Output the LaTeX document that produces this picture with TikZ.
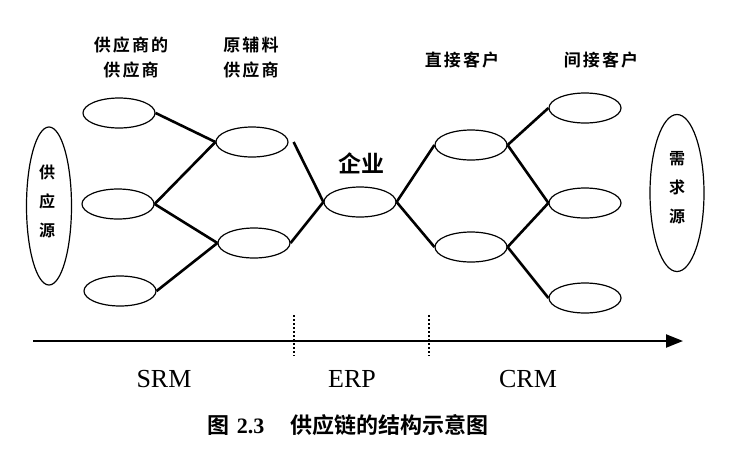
\documentclass[tikz,border=0pt]{standalone}
\usepackage{fontspec}
\setmainfont{Liberation Serif}
\newfontfamily\cjk{Noto Sans CJK SC}[BoldFont={Noto Sans CJK SC Bold}]
\newfontfamily\cjkwide{Noto Sans CJK SC}[BoldFont={Noto Sans CJK SC Bold},LetterSpace=12]
\usetikzlibrary{shapes.geometric,arrows.meta}
\begin{document}
\begin{tikzpicture}[x=1pt,y=-1pt,
  oval/.style={draw,ellipse,line width=1.2pt,minimum width=72pt,minimum height=30pt,inner sep=0pt},
  bigoval/.style={draw,ellipse,line width=1.2pt,inner sep=0pt},
  link/.style={line width=2.6pt},
  head/.style={font=\cjkwide\bfseries\fontsize{17}{25}\selectfont,align=center},
  vtext/.style={font=\cjk\bfseries\fontsize{16}{29}\selectfont,align=center},
  tag/.style={font=\fontsize{26}{30}\selectfont},
  divider/.style={line width=1.6pt,dash pattern=on 2pt off 2pt}]
\useasboundingbox (0,0) rectangle (734,456);
% left source
\node[bigoval,minimum width=45pt,minimum height=158pt] (src) at (49,206) {};
\node[vtext] (srct) at (47,201) {供\\应\\源};
% right demand
\node[bigoval,minimum width=54pt,minimum height=157pt] (dem) at (677,193) {};
\node[vtext] (demt) at (677,188) {需\\求\\源};
% column 1
\node[oval] (a1) at (119,113) {};
\node[oval] (a2) at (118,204) {};
\node[oval] (a3) at (120,291) {};
% column 2
\node[oval] (b1) at (252,142) {};
\node[oval] (b2) at (254,243) {};
% enterprise
\node[oval] (e) at (360,202) {};
\node[font=\cjk\bfseries\fontsize{23}{26}\selectfont] (et) at (361,163) {企业};
% direct customers
\node[oval] (c1) at (471,145) {};
\node[oval] (c2) at (471,247) {};
% indirect customers
\node[oval] (d1) at (585,108) {};
\node[oval] (d2) at (585,203) {};
\node[oval] (d3) at (585,298) {};
% headings
\node[head] (h1) at (131,58) {供应商的\\供应商};
\node[head] (h2) at (251,58) {原辅料\\供应商};
\node[head] (h3) at (462,60) {直接客户};
\node[head] (h4) at (601,60) {间接客户};
% links
\draw[link] (a1.east) -- (b1.west);
\draw[link] (a2.east) -- (b1.west);
\draw[link] (a2.east) -- (b2.west);
\draw[link] (a3.east) -- (b2.west);
\draw[link] ([xshift=5pt]b1.east) -- (e.west);
\draw[link] (b2.east) -- (e.west);
\draw[link] (e.east) -- (c1.west);
\draw[link] (e.east) -- (c2.west);
\draw[link] (c1.east) -- (d1.west);
\draw[link] (c1.east) -- (d2.west);
\draw[link] (c2.east) -- (d2.west);
\draw[link] (c2.east) -- (d3.west);
% axis
\coordinate (ax0) at (33,341);
\coordinate (ax1) at (683,341);
\draw[line width=2.2pt,-{Triangle[length=17pt,width=13pt]}] (ax0) -- (ax1);
\coordinate (v1a) at (294,315); \coordinate (v1b) at (294,356);
\coordinate (v2a) at (429,315); \coordinate (v2b) at (429,356);
\draw[divider] (v1a) -- (v1b);
\draw[divider] (v2a) -- (v2b);
\node[tag] (srm) at (164,379) {SRM};
\node[tag] (erp) at (352,379) {ERP};
\node[tag] (crm) at (528,379) {CRM};
% caption
\node[font=\cjk\bfseries\fontsize{22}{24}\selectfont] (cap) at (348,425) {图\hspace{7pt}{\rmfamily\bfseries 2.3}\hspace{26pt}供应链的结构示意图};
\end{tikzpicture}
\end{document}
